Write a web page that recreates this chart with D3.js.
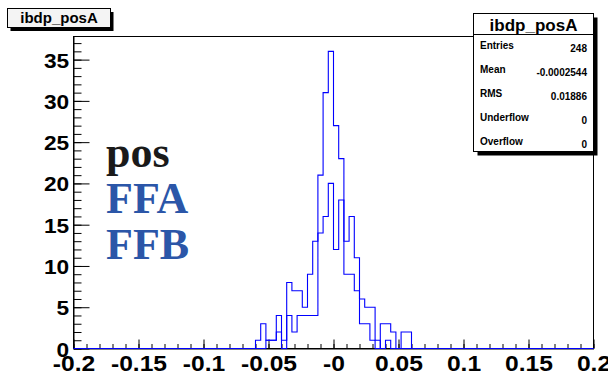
<!DOCTYPE html>
<html>
<head>
<meta charset="utf-8">
<script src="https://cdn.jsdelivr.net/npm/d3@7"></script>
<style>
  body { margin: 0; background: #fff; }
  svg { display: block; font-family: "Liberation Sans", Arial, sans-serif; }
</style>
</head>
<body>
<svg id="chart" width="608" height="376"></svg>
<script>
// histogram binning: 100 bins between -0.2 and 0.2
const binLow = -0.2, binHigh = 0.2, binWidth = 0.004;
// first non-empty bin starts here
const firstEdge = -0.06;
const posA = [1, 3, 1, 1, 4, 0, 8, 7, 7, 5, 9, 13, 21, 31, 36, 27, 23, 9, 9, 7, 3, 3, 1, 0, 3, 3, 2, 0, 2, 2];
const posB = [0, 0, 1, 1, 2, 1, 4, 2, 4, 4, 4, 4, 14, 16, 20, 12, 18, 13, 16, 11, 6, 5, 5, 1, 0, 1, 0, 0, 0, 0];
const yMax = 37.8;

const xMajor = [-0.2, -0.15, -0.1, -0.05, 0, 0.05, 0.1, 0.15, 0.2];
const xLabels = ['-0.2', '-0.15', '-0.1', '-0.05', '-0', '0.05', '0.1', '0.15', '0.2'];
const yMajor = [0, 5, 10, 15, 20, 25, 30, 35];
const yLabels = ['0', '5', '10', '15', '20', '25', '30', '35'];

const histTitle = 'ibdp_posA';
const statNames = ['Entries', 'Mean', 'RMS', 'Underflow', 'Overflow'];
const statValues = ['248', '-0.0002544', '0.01886', '0', '0'];

const legendLabels = ['pos', 'FFA', 'FFB'];
const legendColors = ['#1a1a1a', '#2b56a8', '#2b56a8'];

const svg = d3.select('#chart');
const frameL = 73.5, frameR = 593.5, frameT = 36.5, frameB = 348.5;

const x = d3.scaleLinear().domain([binLow, binHigh]).range([frameL, frameR]);
const y = d3.scaleLinear().domain([0, yMax]).range([frameB, frameT]);

// minor ticks
const xMinor = d3.range(0, 41).map(i => +(binLow + i * 0.01).toFixed(3));
const yMinor = d3.range(0, 38);

svg.append('g')
  .attr('transform', `translate(0,${frameB})`)
  .call(d3.axisBottom(x).tickValues(xMinor).tickFormat('').tickSizeInner(-4.5).tickSizeOuter(0))
  .call(g => g.select('.domain').remove());

svg.append('g')
  .attr('transform', `translate(${frameL},0)`)
  .call(d3.axisLeft(y).tickValues(yMinor).tickFormat('').tickSizeInner(-8).tickSizeOuter(0))
  .call(g => g.select('.domain').remove());

const xAxis = svg.append('g')
  .attr('transform', `translate(0,${frameB})`)
  .call(d3.axisBottom(x).tickValues(xMajor).tickFormat((d, i) => xLabels[i]).tickSizeInner(-9).tickSizeOuter(0));
xAxis.selectAll('text')
  .attr('y', 23)
  .attr('dy', 0)
  .attr('fill', '#000')
  .attr('transform', 'scale(1.12,1)')
  .style('font-size', '22px')
  .style('font-weight', 'bold')
  .style('font-family', '"Liberation Sans", Arial, sans-serif');

const yAxis = svg.append('g')
  .attr('transform', `translate(${frameL},0)`)
  .call(d3.axisLeft(y).tickValues(yMajor).tickFormat((d, i) => yLabels[i]).tickSizeInner(-16).tickSizeOuter(0));
yAxis.selectAll('text')
  .attr('x', -4)
  .attr('dy', 7.5)
  .attr('fill', '#000')
  .attr('transform', 'scale(1.08,1)')
  .style('font-size', '21px')
  .style('font-weight', 'bold')
  .style('font-family', '"Liberation Sans", Arial, sans-serif');

svg.selectAll('.domain').attr('stroke', '#000');
svg.selectAll('.tick line').attr('stroke', '#000');

// frame
svg.append('rect')
  .attr('x', frameL).attr('y', frameT)
  .attr('width', frameR - frameL).attr('height', frameB - frameT)
  .attr('fill', 'none').attr('stroke', '#000').attr('stroke-width', 1);

// histogram outlines
const stepPoints = counts => {
  const pts = [[binLow, 0]];
  counts.forEach((c, i) => pts.push([firstEdge + i * binWidth, c]));
  pts.push([firstEdge + counts.length * binWidth, 0]);
  pts.push([binHigh, 0]);
  return pts;
};
const stepLine = d3.line()
  .x(d => x(d[0]))
  .y(d => y(d[1]))
  .curve(d3.curveStepAfter);

[posB, posA].forEach(counts => {
  svg.append('path')
    .datum(stepPoints(counts))
    .attr('d', stepLine)
    .attr('fill', 'none')
    .attr('stroke', '#0000ff')
    .attr('stroke-width', 1.1);
});

// title box
svg.append('rect').attr('x', 10.5).attr('y', 12).attr('width', 103).attr('height', 19).attr('fill', '#000');
svg.append('rect').attr('x', 7.5).attr('y', 8.5).attr('width', 103).attr('height', 19)
  .attr('fill', '#f4f4f4').attr('stroke', '#000');
svg.append('text')
  .attr('x', 59).attr('y', 23)
  .attr('text-anchor', 'middle')
  .style('font-size', '15px').style('font-weight', 'bold')
  .text(histTitle);

// stats box
const sx = 473.5, sy = 13.5, sw = 120, sh = 138;
svg.append('rect').attr('x', sx + 4).attr('y', sy + 4).attr('width', sw).attr('height', sh).attr('fill', '#000');
svg.append('rect').attr('x', sx).attr('y', sy).attr('width', sw).attr('height', sh)
  .attr('fill', '#fff').attr('stroke', '#000');
svg.append('line')
  .attr('x1', sx).attr('x2', sx + sw).attr('y1', 34.5).attr('y2', 34.5)
  .attr('stroke', '#000');
svg.append('text')
  .attr('x', sx + sw / 2).attr('y', 31)
  .attr('text-anchor', 'middle')
  .style('font-size', '17px').style('font-weight', 'bold')
  .text(histTitle);

const rows = svg.append('g').selectAll('g')
  .data(statNames)
  .join('g')
  .attr('transform', (d, i) => `translate(0,${49 + i * 24})`);
rows.append('text')
  .attr('x', 480)
  .style('font-size', '10px').style('font-weight', 'bold')
  .text(d => d);
rows.append('text')
  .attr('x', 587).attr('y', 2.5)
  .attr('text-anchor', 'end')
  .style('font-size', '10px').style('font-weight', 'bold')
  .text((d, i) => statValues[i]);

// legend text
svg.append('g').selectAll('text')
  .data(legendLabels)
  .join('text')
  .attr('x', 106)
  .attr('y', (d, i) => 167 + i * 46)
  .attr('fill', (d, i) => legendColors[i])
  .style('font-family', '"Liberation Serif", "Times New Roman", serif')
  .style('font-size', '44px')
  .style('font-weight', 'bold')
  .text(d => d);
</script>
</body>
</html>
